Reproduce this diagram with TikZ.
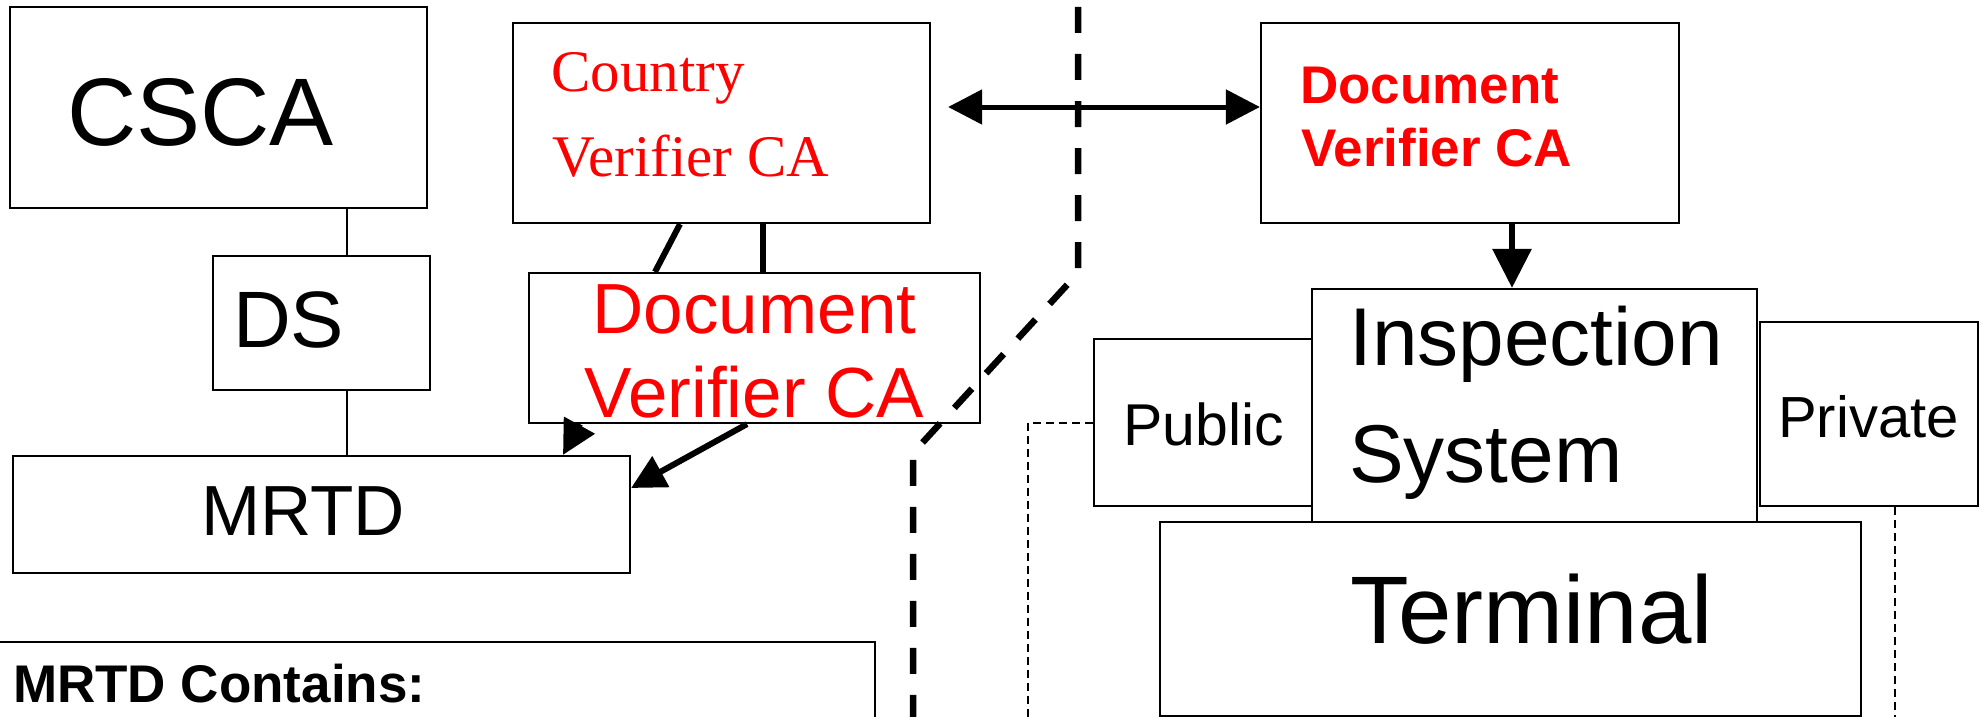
\documentclass[tikz,border=0pt]{standalone}
\usepackage{fontspec}
\setmainfont{Liberation Sans}
\newfontfamily\timesfont{Liberation Serif}
\usetikzlibrary{arrows.meta}

\newcommand\setsize[1]{\fontsize{#1}{#1}\selectfont}

\tikzset{
  box/.style={draw, line width=2.2pt, fill=white, inner sep=0pt},
  txt/.style={anchor=base west, inner sep=0pt},
  link/.style={line width=1.4pt},
  heavy/.style={line width=6pt},
  border/.style={line width=6.5pt, dash pattern=on 26pt off 21pt},
  wire/.style={line width=2pt, dash pattern=on 8pt off 5pt},
}

\begin{document}
\begin{tikzpicture}[x=1pt, y=-1pt, >={Triangle[length=34pt,width=34pt]}]
        \useasboundingbox (0,0) rectangle (1982,717);

        % left side: issuing country
        \node[box, minimum width=417pt, minimum height=201pt] (csca) at (218.5,107.5) {};
        \node[box, minimum width=217pt, minimum height=134pt] (ds) at (321.5,323) {};
        \node[box, minimum width=617pt, minimum height=117pt] (mrtd) at (321.5,514.5) {};
        \node[box, minimum width=417pt, minimum height=200pt] (cvca) at (721.5,123) {};
        \node[box, minimum width=451pt, minimum height=150pt] (dvcal) at (754.5,348) {};
        \node[box, minimum width=885pt, minimum height=120pt] (contains) at (432.5,702) {};

        \node[txt] (csca-t) at (67,145) {\setsize{96}CSCA};
        \node[txt] (ds-t) at (233,347) {\setsize{80}DS};
        \node[txt, anchor=base] (mrtd-t) at (303,535) {\setsize{71}MRTD};
        \node[txt, red] (cvca-t1) at (551,92) {\timesfont\setsize{59}Country};
        \node[txt, red] (cvca-t2) at (552,176) {\timesfont\setsize{59}Verifier CA};
        \node[txt, anchor=base, red] (dvcal-t1) at (754.5,333) {\setsize{71}Document};
        \node[txt, anchor=base, red] (dvcal-t2) at (754.5,417) {\setsize{71}Verifier CA};
        \node[txt] (contains-t) at (13,702) {\setsize{53}\bfseries MRTD Contains:};

        % right side: inspecting country
        \node[box, minimum width=418pt, minimum height=200pt] (dvcar) at (1470,123) {};
        \node[box, minimum width=218pt, minimum height=167pt] (public) at (1203,422.5) {};
        \node[box, minimum width=218pt, minimum height=184pt] (private) at (1869,414) {};
        \node[box, minimum width=445pt, minimum height=233pt] (insp) at (1534.5,405.5) {};
        \node[box, minimum width=701pt, minimum height=194pt] (terminal) at (1510.5,619) {};

        \node[txt, red] (dvcar-t1) at (1300,103) {\setsize{53}\bfseries Document};
        \node[txt, red] (dvcar-t2) at (1301,166) {\setsize{53}\bfseries Verifier CA};
        \node[txt] (insp-t1) at (1349,365) {\setsize{82}Inspection};
        \node[txt] (insp-t2) at (1349,482) {\setsize{82}System};
        \node[txt] (public-t) at (1123,445) {\setsize{59}Public};
        \node[txt] (private-t) at (1778,437) {\setsize{58}Private};
        \node[txt] (terminal-t) at (1350,643) {\setsize{96}Terminal};

        % border between the two countries
        \coordinate (b1) at (1078,7);
        \coordinate (b2) at (1078,273);
        \coordinate (b3) at (913,453);
        \coordinate (b4) at (913,730);
        \draw[border] (b1) -- (b2) -- (b3) -- (b4);

        % connectors
        \coordinate (spine) at (347,0);
        \draw[link] (spine |- csca.south) -- (spine |- ds.north);
        \draw[link] (spine |- ds.south) -- (spine |- mrtd.north);

        \draw[heavy] ([xshift=-41.5pt]cvca.south) -- ([xshift=-99.5pt]dvcal.north);
        \draw[heavy] ([xshift=41.5pt]cvca.south) -- ([xshift=8.5pt]dvcal.north);
        \draw[heavy, ->] ([xshift=-174.5pt]dvcal.south) -- ([xshift=241.5pt]mrtd.north);
        \draw[heavy, ->] ([xshift=-7.5pt]dvcal.south) -- ([yshift=26.5pt]mrtd.east);

        \draw[line width=5pt, <->] ([xshift=17pt, yshift=16pt]cvca.east) -- ([yshift=16pt]dvcar.west);
        \draw[heavy, -{Triangle[length=39pt,width=38pt]}] ([xshift=42pt]dvcar.south) -- ([xshift=-22.5pt]insp.north);

        \coordinate (pubend) at (1028,730);
        \coordinate (privend) at (1895,730);
        \draw[wire] (public.west) -| (pubend);
        \draw[wire] ([xshift=26pt]private.south) -- (privend);
\end{tikzpicture}
\end{document}
